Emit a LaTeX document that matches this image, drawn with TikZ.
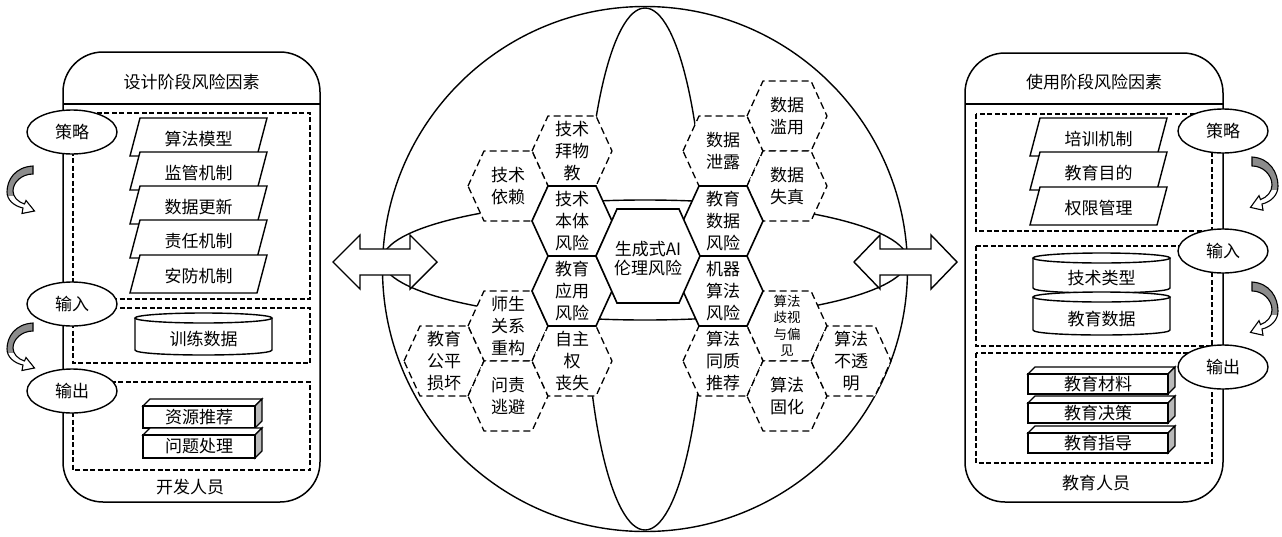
\documentclass[tikz,border=0pt]{standalone}
\usepackage{fontspec}
\setmainfont{Noto Sans CJK SC}
\usetikzlibrary{shapes.geometric}
\tikzset{
  ln/.style={line width=1.4pt},
  hexsolid/.style={draw, line width=1.6pt, fill=white, line join=miter},
  hexdash/.style={draw, line width=1.3pt, fill=white, dash pattern=on 7pt off 4pt},
  hextext/.style={align=center, inner sep=0pt, font=\fontsize{17}{22}\selectfont},
  lbl/.style={inner sep=0pt, font=\fontsize{17}{20}\selectfont},
  dbox/.style={draw, line width=1.2pt, dash pattern=on 5pt off 2.5pt},
  oval/.style={ellipse, draw, line width=1.4pt, fill=white, minimum width=90pt, minimum height=44pt, inner sep=0pt, font=\fontsize{17}{20}\selectfont},
  panel/.style={draw, line width=1.5pt, rounded corners=40pt, inner sep=0pt},
  bigarrow/.style={draw, line width=1.4pt, fill=white, line join=miter},
  curvy/.pic={
    \path[fill=white] (26,0) .. controls (8,1) and (0,14) .. (0,26)
      .. controls (0,34) and (7,40) .. (16,42)
      -- (15,47.5) -- (27.5,45) -- (19,34.5) -- (17.5,38)
      .. controls (11,36) and (6,31) .. (6,25)
      .. controls (6,16) and (15,8) .. (26,8) -- cycle;
    \begin{scope}
      \clip (-3,-3) rectangle (30,29);
      \path[fill=black!45] (26,0) .. controls (8,1) and (0,14) .. (0,26)
        .. controls (0,34) and (7,40) .. (16,42)
        -- (15,47.5) -- (27.5,45) -- (19,34.5) -- (17.5,38)
        .. controls (11,36) and (6,31) .. (6,25)
        .. controls (6,16) and (15,8) .. (26,8) -- cycle;
    \end{scope}
    \path[draw, line width=1.1pt, line join=miter] (26,0) .. controls (8,1) and (0,14) .. (0,26)
      .. controls (0,34) and (7,40) .. (16,42)
      -- (15,47.5) -- (27.5,45) -- (19,34.5) -- (17.5,38)
      .. controls (11,36) and (6,31) .. (6,25)
      .. controls (6,16) and (15,8) .. (26,8) -- cycle;
  }
}
\newcommand\hexcell[6]{%
  \path[#4] ({#2-40},{#3}) -- ({#2-24},{#3-35}) -- ({#2+24},{#3-35}) -- ({#2+40},{#3}) -- ({#2+24},{#3+35}) -- ({#2-24},{#3+35}) -- cycle;
  \node[hextext,#5] (#1) at (#2,#3) {#6};}
\newcommand\para[4]{%
  \path[draw, line width=1.4pt, fill=white, line join=miter] ({#2-58.5},{#3-19}) -- ({#2+68.5},{#3-19}) -- ({#2+58.5},{#3+19}) -- ({#2-68.5},{#3+19}) -- cycle;
  \node[lbl] (#1) at (#2,{#3+2}) {#4};}
\newcommand\cyl[6]{%
  \path[draw, line width=1.4pt, fill=white] ({#2-#5},{#3}) -- ({#2-#5},{#4}) .. controls ({#2-#5},{#4+6.67}) and ({#2+#5},{#4+6.67}) .. ({#2+#5},{#4}) -- ({#2+#5},{#3});
  \path[draw, line width=1.4pt, fill=white] (#2,#3) ellipse [x radius=#5, y radius=5];
  \node[lbl] (#1) at (#2,{(#3+#4)/2+5}) {#6};}
\newcommand\slab[6]{%
  \path[draw, line width=1.3pt, fill=white, line join=miter] (#2,#3) -- ({#2+7},{#3-7}) -- ({#2+#4+7},{#3-7}) -- ({#2+#4},#3) -- cycle;
  \path[draw, line width=1.3pt, fill=gray!55, line join=miter] ({#2+#4},#3) -- ({#2+#4+7},{#3-7}) -- ({#2+#4+7},{#3+#5-7}) -- ({#2+#4},{#3+#5}) -- cycle;
  \path[draw, line width=1.3pt, fill=white] (#2,#3) rectangle ({#2+#4},{#3+#5});
  \node[lbl] (#1) at ({#2+#4/2},{#3+#5/2}) {#6};}
\begin{document}
\begin{tikzpicture}[x=1pt, y=-1pt]
\useasboundingbox (0,0) rectangle (1282,536);
% sphere
\draw[ln] (645,269) circle [radius=262.5];
\draw[ln] (645,269) ellipse [x radius=60, y radius=261];
\draw[ln] (645,260) ellipse [x radius=262.5, y radius=60];
% dashed hexes
\hexcell{tbw}{572}{151}{hexdash}{}{技术\\拜物\\教}
\hexcell{tyl}{508}{186}{hexdash}{}{技术\\依赖}
\hexcell{ssgx}{508}{326}{hexdash}{}{师生\\关系\\重构}
\hexcell{jygp}{444}{361}{hexdash}{}{教育\\公平\\损坏}
\hexcell{wzty}{508}{396}{hexdash}{}{问责\\逃避}
\hexcell{zzq}{572}{361}{hexdash}{}{自主\\权\\丧失}
\hexcell{sjxl}{723}{151}{hexdash}{}{数据\\泄露}
\hexcell{sjly}{787}{116}{hexdash}{}{数据\\滥用}
\hexcell{sjsz}{787}{186}{hexdash}{}{数据\\失真}
\hexcell{sfqs}{787}{326}{hexdash}{font=\fontsize{13.5}{16.5}\selectfont}{算法\\歧视\\与偏\\见}
\hexcell{sftz}{723}{361}{hexdash}{}{算法\\同质\\推荐}
\hexcell{sfgh}{787}{396}{hexdash}{}{算法\\固化}
\hexcell{sfbt}{851}{361}{hexdash}{}{算法\\不透\\明}
% solid hexes
\hexcell{jsbt}{572}{221}{hexsolid}{}{技术\\本体\\风险}
\hexcell{jyyy}{572}{291}{hexsolid}{}{教育\\应用\\风险}
\hexcell{jysj}{723}{221}{hexsolid}{}{教育\\数据\\风险}
\hexcell{jqsf}{723}{291}{hexsolid}{}{机器\\算法\\风险}
\path[hexsolid] (596,256) -- (617,209) -- (679,209) -- (700,256) -- (679,303) -- (617,303) -- cycle;
\node[hextext, font=\fontsize{17}{19}\selectfont] (core) at (648,259) {生成式AI\\伦理风险};
% double arrows
\path[bigarrow] (333,262) -- (360,235) -- (360,249) -- (410,249) -- (410,235) -- (437,262) -- (410,289) -- (410,275) -- (360,275) -- (360,289) -- cycle;
\path[bigarrow] (854,262) -- (880,235) -- (880,249) -- (931,249) -- (931,235) -- (957,262) -- (931,289) -- (931,275) -- (880,275) -- (880,289) -- cycle;
% ---------- left panel
\node[panel, minimum width=257pt, minimum height=450pt] (lpanel) at (191.5,277) {};
\draw[ln] (63,104) -- (320,104);
\node[lbl] (ltitle) at (191.5,82) {设计阶段风险因素};
\node[lbl] (lfoot) at (190,487) {开发人员};
\path[dbox] (73,113) rectangle (310,299);
\path[dbox] (73,308) rectangle (310,363);
\path[dbox] (73,382) rectangle (310,470);
\para{p1}{198.5}{137}{算法模型}
\para{p2}{198.5}{171}{监管机制}
\para{p3}{198.5}{205}{数据更新}
\para{p4}{198.5}{239}{责任机制}
\para{p5}{198.5}{274}{安防机制}
\cyl{c1}{203.5}{318}{350}{68.5}{训练数据}
\slab{s1}{143}{406}{112}{22}{资源推荐}
\slab{s2}{143}{435}{112}{23}{问题处理}
\node[oval] (lcl) at (72,132) {策略};
\node[oval] (lin) at (72,304) {输入};
\node[oval] (lout) at (72,391) {输出};
\pic at (7,166) {curvy};
\pic at (7,323) {curvy};
% ---------- right panel
\node[panel, minimum width=258pt, minimum height=449pt] (rpanel) at (1094,277.5) {};
\draw[ln] (965,104) -- (1223,104);
\node[lbl] (rtitle) at (1094,82) {使用阶段风险因素};
\node[lbl] (rfoot) at (1096,483) {教育人员};
\path[dbox] (976,114) rectangle (1212,231);
\path[dbox] (976,246) rectangle (1212,346);
\path[dbox] (976,353) rectangle (1212,463);
\para{q1}{1098.5}{137}{培训机制}
\para{q2}{1098.5}{171}{教育目的}
\para{q3}{1098.5}{206}{权限管理}
\cyl{d1}{1101.5}{258}{288}{68.5}{技术类型}
\cyl{d2}{1101.5}{297}{330}{68.5}{教育数据}
\slab{t1}{1028}{374}{140}{20}{教育材料}
\slab{t2}{1028}{403}{140}{20}{教育决策}
\slab{t3}{1028}{433}{140}{20}{教育指导}
\node[oval] (rcl) at (1223,131) {策略};
\node[oval] (rin) at (1223,251) {输入};
\node[oval] (rout) at (1223,367) {输出};
\pic[xscale=-1, yscale=1.12] at (1278,157) {curvy};
\pic[xscale=-1, yscale=1.12] at (1278,282) {curvy};
\end{tikzpicture}
\end{document}
